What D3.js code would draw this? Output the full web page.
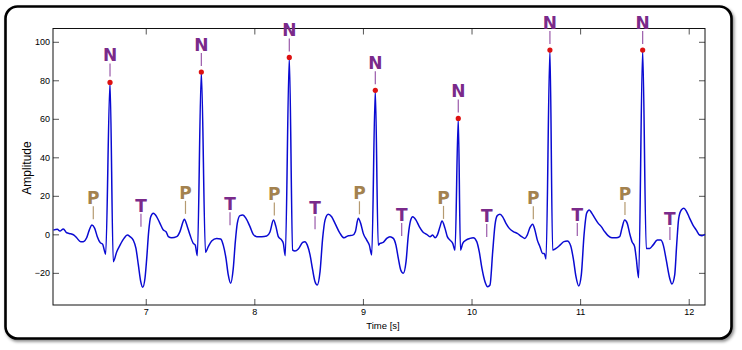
<!DOCTYPE html>
<html><head><meta charset="utf-8">
<script src="https://cdn.jsdelivr.net/npm/d3@7"></script>
<style>
html,body{margin:0;padding:0;background:#fff;}
svg{display:block;}
</style></head>
<body>
<script>
// ---- data ----
const time = [6.149,6.186,6.210,6.241,6.272,6.309,6.339,6.364,6.401,6.425,6.456,6.480,6.505,6.530,6.554,6.579,6.604,6.618,6.631,6.671,6.701,6.733,6.763,6.800,6.830,6.855,6.885,6.910,6.932,6.954,6.972,6.993,7.009,7.027,7.046,7.070,7.101,7.131,7.162,7.187,7.208,7.239,7.285,7.315,7.346,7.355,7.383,7.408,7.438,7.456,7.475,7.512,7.550,7.576,7.607,7.653,7.690,7.714,7.739,7.760,7.782,7.806,7.825,7.843,7.868,7.893,7.923,7.960,7.990,8.022,8.068,8.114,8.144,8.176,8.199,8.221,8.252,8.267,8.285,8.322,8.353,8.374,8.405,8.445,8.466,8.488,8.513,8.537,8.559,8.580,8.605,8.629,8.651,8.681,8.712,8.743,8.789,8.826,8.865,8.906,8.930,8.957,8.979,9.003,9.035,9.059,9.081,9.114,9.141,9.157,9.187,9.219,9.249,9.280,9.304,9.326,9.348,9.372,9.397,9.418,9.440,9.458,9.489,9.519,9.550,9.587,9.618,9.642,9.664,9.685,9.710,9.728,9.756,9.777,9.802,9.827,9.848,9.878,9.898,9.919,9.949,9.986,10.016,10.048,10.071,10.096,10.124,10.149,10.170,10.195,10.216,10.237,10.262,10.287,10.317,10.348,10.385,10.421,10.462,10.492,10.513,10.538,10.563,10.584,10.606,10.630,10.655,10.670,10.686,10.722,10.747,10.778,10.815,10.851,10.882,10.913,10.937,10.962,10.987,11.011,11.036,11.060,11.084,11.109,11.137,11.167,11.195,11.226,11.257,11.293,11.333,11.364,11.385,11.410,11.434,11.456,11.478,11.502,11.517,11.539,11.576,11.609,11.641,11.671,11.711,11.742,11.766,11.793,11.825,11.846,11.871,11.889,11.908,11.932,11.956,11.978,12.009,12.039,12.070,12.101,12.122,12.150];
const amplitude = [2.2,2.6,1.7,2.8,0.8,0.3,-0.4,-1.8,-3.8,-3.8,-1.8,2.2,4.8,3.1,-1.2,-4.2,-5.2,-8.2,-10.4,78.9,-14.2,-9,-5.6,-2.1,-0.4,-1.2,-3,-7.3,-15.9,-24.6,-27.5,-22.8,-12.5,1.4,9.1,10.9,9.1,5.7,2.2,1.4,-1.2,-1.8,-1.2,1.4,6.9,7.8,4,-0.4,-4.7,-5.6,-11.1,84.3,-9.3,-6.4,-3.5,-2.1,-2.4,-5.6,-12.5,-21.1,-25.4,-17.7,-3.8,5.7,9.7,10,8.3,4,0,-1.2,-1.2,-0.9,1.2,7.4,4,-1.2,-3,-4.7,-11.1,91.9,-8.2,-8.7,-7.6,-4.2,-3.8,-5.6,-10.7,-18.5,-24.6,-26.3,-19.4,-2.1,7.4,10.4,9.1,5.7,0.5,-1.8,-0.7,-0.4,1.4,8.3,5.7,0.5,-3,-5.6,-10.7,74.8,-5.6,-4.7,-4.2,-2.1,-1.2,-2.1,-5.6,-12.5,-18.5,-20.2,-14.2,-0.4,7.4,9.1,7.4,4,1.4,0,-1.2,-0.4,-1.8,-0.4,4,6.9,3.1,-1.2,-3,-4.7,-8.2,60.2,-8.2,-4.7,-3,-2.1,-1.8,-3.8,-9,-17.7,-24.6,-27.2,-26.3,-9,4.8,9.7,10.4,9.1,5.7,3.1,1.4,0.5,-1.2,-2.1,-0.4,3.5,5.3,2.2,-3,-6.4,-9.9,-9.9,-12.8,95.7,-8.2,-7.3,-5.6,-3.8,-3.5,-5.9,-12.5,-22,-26.8,-21.1,-0.4,10.9,12.6,10.9,8.3,5.7,4,1.4,-0.7,-1.8,-1.8,-1.2,3.1,7.4,5.7,0.5,-3.8,-6.4,-12.5,-22.5,95.7,-7.3,-7.3,-5.6,-3,-3,-5.6,-13.3,-22.8,-25.8,-21.1,-5.6,8.3,12.6,13.5,12.1,8.3,4.8,2.2,-0.4,-0.7,0];

const nTimes = [6.671,7.512,8.322,9.114,9.878,10.722,11.576];
const nAmps  = [78.9,84.3,91.9,74.8,60.2,95.7,95.7];
const pTimes = [6.517,7.366,8.184,8.968,9.742,10.569,11.413];
const pAmps  = [4.7,7.5,6.7,7.3,4.9,4.7,6.9];
const tTimes = [6.956,7.776,8.559,9.357,10.140,10.974,11.827];
const tAmps  = [0.8,1.6,-0.5,-4.0,-4.5,-4.0,-6.1];

const xTicks = [7,8,9,10,11,12];
const yTicks = [-20,0,20,40,60,80,100];
const xLabel = "Time [s]";
const yLabel = "Amplitude";

// ---- layout ----
const W = 742, H = 350;
const L = 53, R = 705, T = 28.5, B = 305;

const svg = d3.select("body").append("svg").attr("width", W).attr("height", H);

const defs = svg.append("defs");
const f = defs.append("filter").attr("id","sh").attr("x","-5%").attr("y","-5%").attr("width","110%").attr("height","115%");
f.append("feDropShadow").attr("dx",1.5).attr("dy",2).attr("stdDeviation",1.6).attr("flood-color","#000").attr("flood-opacity",0.45);

svg.append("rect").attr("x",5.5).attr("y",6.5).attr("width",726).attr("height",332)
  .attr("rx",12).attr("ry",12).attr("fill","#fff").attr("stroke","#000").attr("stroke-width",2.6)
  .attr("filter","url(#sh)");

const x = d3.scaleLinear().domain([6.146, 12.15]).range([L, R]);
const y = d3.scaleLinear().domain([-36.7, 106.9]).range([B, T]);

const font = "Helvetica, Arial, 'Liberation Sans', sans-serif";

// axes (inward ticks, MATLAB box)
function styleAxis(g){
  g.select(".domain").remove();
  g.selectAll(".tick line").attr("stroke","#555").attr("stroke-width",1);
  g.selectAll(".tick text").attr("font-family",font).attr("font-size",9).attr("fill","#000");
}
svg.append("g").attr("transform",`translate(0,${B})`)
  .call(d3.axisBottom(x).tickValues(xTicks).tickFormat(d3.format("d")).tickSizeInner(-6).tickSizeOuter(0).tickPadding(4))
  .call(styleAxis);
svg.append("g").attr("transform",`translate(0,${T})`)
  .call(d3.axisTop(x).tickValues(xTicks).tickFormat("").tickSizeInner(-6).tickSizeOuter(0))
  .call(styleAxis);
svg.append("g").attr("transform",`translate(${L},0)`)
  .call(d3.axisLeft(y).tickValues(yTicks).tickFormat(d => d < 0 ? "\u2212" + Math.abs(d) : d).tickSizeInner(-6).tickSizeOuter(0).tickPadding(3))
  .call(styleAxis);
svg.append("g").attr("transform",`translate(${R},0)`)
  .call(d3.axisRight(y).tickValues(yTicks).tickFormat("").tickSizeInner(-6).tickSizeOuter(0))
  .call(styleAxis);

svg.append("rect").attr("x",L).attr("y",T).attr("width",R-L).attr("height",B-T)
  .attr("fill","none").attr("stroke","#111").attr("stroke-width",1);

svg.append("text").attr("x",(L+R)/2+4).attr("y",329).attr("text-anchor","middle")
  .attr("font-family",font).attr("font-size",9.5).text(xLabel);
svg.append("text").attr("transform","translate(31,168) rotate(-90)").attr("text-anchor","middle")
  .attr("font-family",font).attr("font-size",12).text(yLabel);

// signal
const pts = time.map((t,i)=>[t, amplitude[i]]);
svg.append("path").datum(pts)
  .attr("d", d3.line().x(d=>x(d[0])).y(d=>y(d[1])).curve(d3.curveMonotoneX))
  .attr("fill","none").attr("stroke","#0a0ad2").attr("stroke-width",1.5).attr("stroke-linejoin","round");

// annotations
function annotate(ts, as, label, color, lineColor){
  const g = svg.append("g");
  ts.forEach((t,i)=>{
    const ax = x(t), ay = y(as[i]);
    g.append("line").attr("x1",ax).attr("x2",ax).attr("y1",ay-19).attr("y2",ay-6)
      .attr("stroke",lineColor).attr("stroke-width",1.2);
    g.append("text").attr("x",ax).attr("y",ay-21).attr("text-anchor","middle")
      .attr("font-family","'DejaVu Sans', Verdana, sans-serif").attr("font-weight","bold")
      .attr("font-size",17).attr("fill",color).text(label);
  });
}
annotate(pTimes, pAmps, "P", "#a3824f", "#b59a70");
annotate(tTimes, tAmps, "T", "#7a2a8a", "#9a5aaa");
annotate(nTimes, nAmps, "N", "#7a2a8a", "#9a5aaa");

svg.append("g").selectAll("circle").data(nTimes).join("circle")
  .attr("cx",(d)=>x(d)).attr("cy",(d,i)=>y(nAmps[i])).attr("r",2.6).attr("fill","#dd1111");
</script>
</body></html>
